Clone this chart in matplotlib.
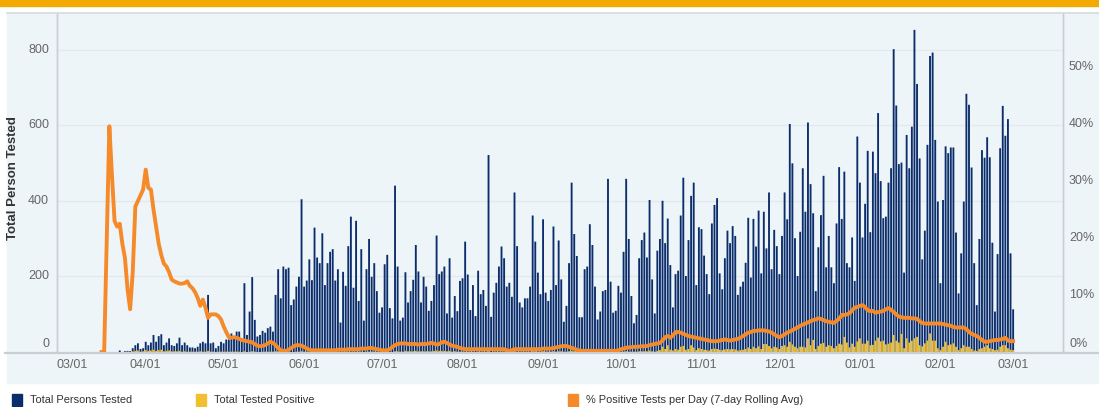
import datetime as dt
import matplotlib
matplotlib.use("Agg")
import matplotlib.pyplot as plt
import matplotlib.dates as mdates
from matplotlib.patches import Rectangle
from matplotlib.lines import Line2D
import matplotlib.transforms as mtrans

plt.rcParams['font.family'] = ['Liberation Sans', 'DejaVu Sans']

# ---------------- data ----------------
start_date = dt.date(2020, 3, 15)

tested = [
    0, 0, 0, 0, 0, 0, 0,
    4, 0, 2, 3, 2, 10, 18, 23, 8, 10, 27, 18, 25, 45, 27, 42, 47, 18, 25, 36, 18, 16, 23, 38, 18, 25,
    18, 12, 12, 10, 14, 23, 27, 23, 151, 23, 25, 10, 16, 27, 23, 33, 33, 49, 36, 54, 54, 32, 182, 45,
    107, 198,
    85, 41, 45, 56, 51, 63, 67, 54, 151, 219, 142, 226, 219, 223, 124, 139, 173, 199, 404, 173, 189,
    245, 190, 329, 250, 235, 314, 177, 235, 265, 272, 189, 219, 78, 212, 175, 280, 358, 170, 347, 135,
    272, 83, 219, 299, 199, 235, 161, 104, 118, 232, 257, 116, 89, 440, 226, 83, 91,
    211, 131, 161, 191, 283, 213, 131, 199, 173, 109, 135, 177, 308, 206, 213, 226, 102, 248, 91, 148,
    108, 188, 195, 292, 205, 111, 177, 95, 215, 153, 164, 122, 521, 93, 157, 183, 226, 279, 248, 173,
    183, 146, 422, 280, 131, 118, 142, 142, 173, 361, 292, 210, 153, 351, 157, 135, 164, 332, 177, 295,
    192, 80,
    122, 235, 448, 312, 254, 92, 92, 219, 226, 338, 283, 173, 86, 107, 161, 164, 458, 186, 104, 109,
    175, 157, 265, 458, 299, 148, 76, 98, 248, 296, 316, 250, 402, 192, 102, 268, 299, 400, 288, 353,
    230, 118, 206, 215, 361, 461, 201, 296, 413, 448, 177, 330, 325, 255, 206, 153, 340, 389, 407,
    208, 166, 248, 321, 288, 333, 307, 151, 173, 186, 236, 355, 197, 352, 279, 374, 208, 371, 274, 422,
    219, 323, 280, 206, 307, 422, 351, 603, 499, 301, 201, 318, 486, 371, 607, 444, 367, 161, 277, 362,
    466, 224, 307, 224, 182, 340, 489, 352, 477, 235, 224, 303, 188, 570, 448, 303, 392, 532, 317, 530,
    473, 632, 452, 354, 358, 448, 486, 801, 652, 497, 501, 210, 574, 486, 596, 852, 709, 512, 245, 321,
    548, 783, 792, 561, 398, 182, 402, 544, 526, 541, 541, 316, 155, 261, 398, 683, 654, 488, 235, 124,
    299, 534, 514, 568, 515, 289, 107, 259, 539, 651, 572, 616, 261, 113,
]

positive = [
    0, 0, 0, 0, 0, 0, 0,
    0, 0, 0, 1, 0, 2, 3, 4, 1, 2, 5, 3, 4, 6, 3, 5, 6, 2, 3, 4, 2, 2, 2, 3, 1, 2, 1, 1, 1, 1,
    1, 2, 1, 1, 3, 1, 1, 0, 1, 1, 1, 1, 1, 1, 1, 1, 1, 0, 2, 0, 1, 2,
    1, 0, 0, 1, 1, 1, 1, 1, 2, 2, 1, 2, 1, 1, 0, 0, 1, 1, 2, 1, 1, 1, 1, 1, 1, 1, 1, 1, 1, 1,
    1, 1, 1, 0, 1, 1, 1, 1, 1, 1, 1, 1, 0, 1, 1, 1, 1, 1, 0, 0, 1, 1, 0, 0, 2, 2, 1, 1,
    3, 2, 2, 2, 3, 2, 2, 2, 2, 2, 2, 3, 4, 3, 3, 3, 2, 3, 1, 2, 1, 1, 1, 1, 1, 1, 1, 0, 1, 1,
    1, 1, 2, 0, 1, 1, 1, 1, 1, 1, 1, 1, 2, 1, 1, 1, 1, 1, 1, 2, 2, 1, 1, 2, 1, 1, 1, 2, 1, 2,
    2, 1,
    1, 2, 3, 2, 2, 0, 0, 1, 0, 1, 1, 0, 0, 0, 0, 0, 1, 0, 0, 0, 0, 1, 1, 2, 1, 1, 1, 1, 2, 2,
    2, 2, 4, 2, 1, 3, 5, 14, 8, 18, 6, 4, 8, 6, 14, 16, 6, 8, 18, 12, 5, 10, 8, 6, 5, 4, 8, 9, 8,
    6, 5, 7, 8, 7, 8, 7, 4, 5, 6, 8, 12, 8, 14, 10, 15, 8, 21, 21, 16, 10, 14, 12, 8, 16, 18, 14, 27,
    20, 14, 10, 14, 14, 12, 36, 18, 32, 8, 16, 22, 24, 14, 18, 16, 10, 16, 22, 20, 40, 25, 12, 22,
    14, 28, 36, 22, 22, 30, 18, 19,
    30, 38, 28, 30, 20, 22, 25, 45, 30, 25, 48, 10, 36, 25, 30, 36, 40, 18, 15, 23, 30, 49, 30, 30,
    10, 5, 14, 27, 18, 20, 23, 14, 5, 10, 18, 14, 14, 8, 4, 3, 8, 10, 14, 18, 10, 8, 5, 6, 14, 18,
    18, 10, 6, 5,
]

pct_positive = [
    0, 0, 20, 39.6, 31, 23, 22, 22.5, 19, 16.5, 11, 7.5, 14, 25.5, 26.5, 27.5, 28.5, 32, 28.8, 28.5,
    25, 22, 19, 17, 15.5, 15, 14, 12.7, 12.4, 12.2, 12, 12, 12.1, 12.4, 11.6, 11.2, 10.5, 9.5, 8.1,
    9.2, 7.8, 6.0, 6.6, 6.6, 6.6, 6.3, 5.7, 4.5, 3.5, 2.6, 2.5, 2.6, 2.5, 2.3, 2.1, 2.0, 1.9, 1.8,
    1.7, 1.4, 1.1, 1.0, 1.1, 1.2, 1.5, 1.8, 1.6, 1.2, 0.7, 0.3, 0.2, 0.2, 0.4, 0.7, 1.0, 1.2, 1.2, 1.1,
    0.9, 0.6, 0.4, 0.3, 0.3, 0.3, 0.3, 0.3, 0.3, 0.3, 0.3, 0.3, 0.3, 0.4, 0.4, 0.4, 0.4, 0.5, 0.5, 0.5,
    0.5, 0.5, 0.6, 0.6, 0.6, 0.7, 0.7, 0.6, 0.5, 0.4, 0.3, 0.3, 0.3, 0.5, 0.9, 1.2, 1.4, 1.5, 1.5, 1.5,
    1.4,
    1.4, 1.4, 1.4, 1.3, 1.4, 1.4, 1.4, 1.5, 1.6, 1.5, 1.3, 1.4, 1.7, 1.8, 1.6, 1.3, 1.1, 1.0, 0.9, 0.7,
    0.6, 0.5, 0.5, 0.5, 0.5, 0.5, 0.5, 0.5, 0.5, 0.5, 0.5, 0.5, 0.5, 0.5, 0.5, 0.5, 0.5, 0.3, 0.2, 0.3,
    0.5, 0.5, 0.5, 0.5, 0.5, 0.5, 0.5, 0.5, 0.5, 0.5, 0.5, 0.6, 0.6, 0.6, 0.6, 0.7, 0.8, 0.9, 1.0, 1.05,
    1.05, 0.9, 0.7, 0.6, 0.4, 0.25, 0.2, 0.2, 0.2, 0.2, 0.2, 0.2, 0.2, 0.2, 0.2, 0.2, 0.2, 0.2, 0.2, 0.2,
    0.3, 0.5, 0.6, 0.75, 0.8, 0.85, 0.9, 0.9, 0.95, 1.0, 1.0, 1.05, 1.2, 1.3, 1.4, 1.5, 1.6, 2.0, 2.6, 2.8,
    2.5, 2.9, 3.5, 3.5, 3.4, 3.2, 3.0, 2.8, 2.7, 2.6, 2.5, 2.4, 2.3, 2.2, 2.1, 2.0, 1.9, 1.9, 1.9,
    2.0, 2.1, 2.2, 2.1, 2.0, 2.1, 2.2, 2.3, 2.5, 2.8, 3.1, 3.4, 3.5, 3.7, 3.7, 3.8, 3.8, 3.8, 3.7, 3.6,
    3.4, 3.1, 2.8, 2.6, 2.8, 3.1, 3.4, 3.6, 3.8, 4.1, 4.3, 4.6, 4.8, 5.0, 5.2, 5.4, 5.6, 5.7, 5.9, 5.8,
    5.6, 5.4, 5.3, 5.2, 5.1, 5.5, 5.8, 6.5, 6.5, 6.6, 6.8, 7.3, 7.8, 7.9, 8.1, 8.2, 7.9, 7.3, 7.2, 7.2,
    6.9, 7.0, 7.1, 7.2, 7.5, 7.7, 7.4, 7.0, 6.6, 6.2, 6.1, 6.0, 6.0, 6.0, 5.9, 5.9, 5.8, 5.4, 5.1, 5.0,
    5.0, 5.0, 5.0, 5.0, 5.0, 5.0, 4.9, 4.8, 4.7, 4.6, 4.4, 4.3, 4.3, 4.3, 4.3, 4.0, 3.5, 3.2, 3.0, 2.8,
    2.5, 2.1, 1.8, 1.8, 1.9, 2.0, 2.1, 2.1, 2.2, 2.3, 2.5, 2.0, 1.9, 1.9,
]

month_ticks = [dt.date(2020, m, 1) for m in range(3, 13)] + [dt.date(2021, m, 1) for m in (1, 2, 3)]
left_ticks = [0, 200, 400, 600, 800]
right_ticks = [0, 10, 20, 30, 40, 50]

series_labels = ["Total Persons Tested", "Total Tested Positive",
                 "% Positive Tests per Day (7-day Rolling Avg)"]

# ---------------- style ----------------
NAVY = '#0b2d6b'
YELLOW = '#f2bf2e'
ORANGE = '#f58a2a'
BG = '#eef5f9'
GOLD = '#f2a900'
TICK = '#666666'

W, H = 1099, 407
fig = plt.figure(figsize=(W / 100, H / 100), dpi=100)
fig.patch.set_facecolor('white')

def fx(px):
    return px / W

def fy(py):
    return 1 - py / H

# background bands (drawn beneath the axes)
fig.patches.append(Rectangle((0, fy(6)), 1, 6 / H, transform=fig.transFigure,
                             color=GOLD, zorder=-5))
fig.patches.append(Rectangle((fx(7), fy(383)), 1 - fx(7), (383 - 14) / H,
                             transform=fig.transFigure, color=BG, zorder=-5))
fig.lines.append(Line2D([fx(7), 1], [fy(13), fy(13)], transform=fig.transFigure,
                        color='#d6d9dc', lw=1.2, zorder=-4))
fig.lines.append(Line2D([fx(5), 1], [fy(352.5), fy(352.5)], transform=fig.transFigure,
                        color='#c8ced4', lw=1.6, zorder=-4))

L, R, T, B = 57, 1063, 14, 352
ax = fig.add_axes([fx(L), fy(B), (R - L) / W, (B - T) / H])
ax.patch.set_alpha(0)

dates = [start_date + dt.timedelta(days=i) for i in range(len(tested))]
x = mdates.date2num(dates)
base = mdates.date2num(dt.date(2020, 3, 1))

bars_t = ax.bar(x, tested, width=0.72, color=NAVY, edgecolor='none', zorder=3)
bars_p = ax.bar(x, positive, width=0.72, color=YELLOW, edgecolor='none', zorder=4)
for b in list(bars_t) + list(bars_p):
    b.set_snap(False)

ax.set_xlim(base - 3.16, base + 384.2)
ax.set_ylim(0, 894)
ax.set_yticks(left_ticks)
ax.set_yticklabels([])
ax.tick_params(axis='y', length=0)
ax.grid(axis='y', color='#e2e8ec', lw=0.9, zorder=0)
ax.set_axisbelow(True)
ax.set_xticks(mdates.date2num(month_ticks))
ax.set_xticklabels([])
ax.tick_params(axis='x', length=0)

for s in ('top', 'bottom'):
    ax.spines[s].set_visible(False)
for s in ('left', 'right'):
    ax.spines[s].set_color('#c8ced4')
    ax.spines[s].set_linewidth(1.0)

# left tick labels
ytrans = mtrans.blended_transform_factory(ax.transAxes, ax.transData)
for v in left_ticks:
    t = ax.text(-8 / (R - L), v, f"{v}", transform=ytrans, ha='right', va='center',
                fontsize=9, color=TICK)
    if v == 0:
        t.set_transform(ytrans + mtrans.ScaledTranslation(0, 8 / 100, fig.dpi_scale_trans))

ax2 = ax.twinx()
ax2.patch.set_alpha(0)
ax2.set_ylim(0, 59.3)
ax2.set_yticks(right_ticks)
ax2.set_yticklabels([])
ax2.tick_params(axis='y', length=0)
for s in ('top', 'bottom'):
    ax2.spines[s].set_visible(False)
for s in ('left', 'right'):
    ax2.spines[s].set_color('#c8ced4')
    ax2.spines[s].set_linewidth(1.0)
ax2.plot(x[:len(pct_positive)], pct_positive, color=ORANGE, lw=2.8, solid_joinstyle='round',
         zorder=5)

ytrans2 = mtrans.blended_transform_factory(ax2.transAxes, ax2.transData)
for v in right_ticks:
    t = ax2.text(1 + 6 / (R - L), v, f"{v}%", transform=ytrans2, ha='left', va='center',
                 fontsize=9, color=TICK)
    if v == 0:
        t.set_transform(ytrans2 + mtrans.ScaledTranslation(0, 8 / 100, fig.dpi_scale_trans))

# x tick labels
xtrans = mtrans.blended_transform_factory(ax.transData, ax.transAxes)
for i, d in enumerate(month_ticks):
    t = ax.text(mdates.date2num(d), -13 / (B - T), d.strftime("%m/%d"), transform=xtrans,
                ha='center', va='center', fontsize=9, color=TICK)
    if i == 0:
        t.set_transform(xtrans + mtrans.ScaledTranslation(6.5 / 100, 0, fig.dpi_scale_trans))

# y axis title
fig.text(fx(13), fy(178), "Total Person Tested", rotation=90, ha='center', va='center',
         fontsize=9.5, fontweight='bold', color='#333333')

# legend
leg_items = [(12, NAVY, series_labels[0]), (196, YELLOW, series_labels[1]),
             (568, ORANGE, series_labels[2])]
for px, col, lab in leg_items:
    fig.patches.append(Rectangle((fx(px), fy(406)), 10 / W, 12 / H, transform=fig.transFigure,
                                 color=col, zorder=2))
    fig.text(fx(px + 18), fy(400), lab, ha='left', va='center', fontsize=7.9, color='#333333')

fig.savefig("out.png", dpi=100, facecolor='white')
